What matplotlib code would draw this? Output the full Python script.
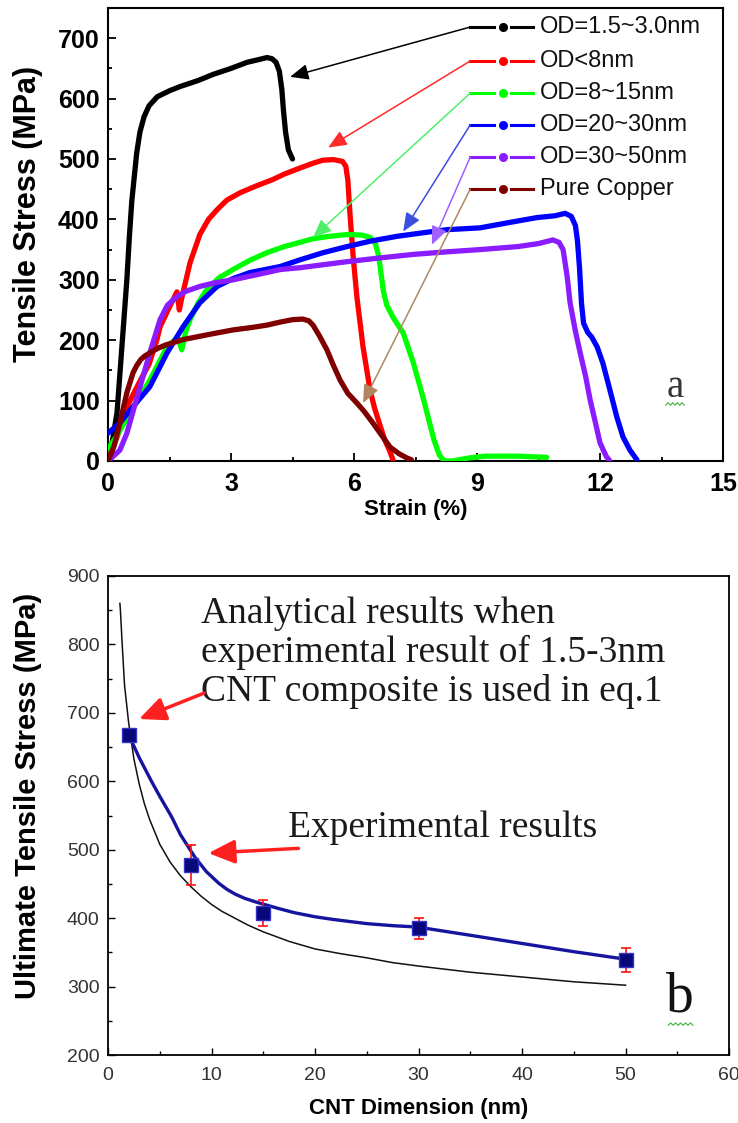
import numpy as np
import matplotlib
matplotlib.use("Agg")
import matplotlib.pyplot as plt
from matplotlib.ticker import MultipleLocator

# ---------------- (a) stress-strain curves ----------------
labels_a = ["OD=1.5~3.0nm", "OD<8nm", "OD=8~15nm", "OD=20~30nm", "OD=30~50nm", "Pure Copper"]
colors_a = ["#000000", "#ff0000", "#00ff00", "#0000ff", "#8a1cff", "#800000"]
arrow_colors = ["#000000", "#ff2a2a", "#4ef06a", "#3a4ee0", "#a060ff", "#b08660"]

strain_od15 = [0, 0.1, 0.22, 0.34, 0.46, 0.52, 0.58, 0.64, 0.7, 0.78, 0.88, 1.0, 1.2, 1.5,
               1.76, 2.2, 2.56, 3.0, 3.39, 3.7, 3.88, 4.0, 4.1, 4.18, 4.24, 4.28, 4.33,
               4.4, 4.5]
stress_od15 = [0, 30, 80, 190, 300, 370, 430, 470, 510, 545, 570, 588, 603, 613,
               620, 630, 640, 650, 660, 665, 668, 666, 660, 645, 615, 580, 545,
               515, 500]

strain_od8 = [0, 0.1, 0.25, 0.5, 0.8, 1.0, 1.19, 1.27, 1.5, 1.68, 1.74, 1.8, 2.0, 2.24, 2.45,
              2.66, 2.9, 3.22, 3.6, 4.02, 4.3, 4.68, 5.0, 5.24, 5.5, 5.72, 5.8, 5.85, 5.9,
              5.98, 6.07, 6.22, 6.39, 6.5, 6.63, 6.75, 6.88, 6.95]
stress_od8 = [0, 20, 45, 95, 135, 160, 200, 222, 255, 280, 250, 270, 328, 375, 400,
              416, 432, 444, 455, 466, 475, 485, 493, 498, 499, 496, 488, 465, 411,
              338, 272, 189, 118, 88, 60, 35, 15, 2]

strain_od8_15 = [0, 0.2, 0.54, 1.02, 1.44, 1.7, 1.8, 1.9, 2.0, 2.2, 2.41, 2.7, 3.05, 3.45,
                 3.88, 4.3, 4.68, 5.0, 5.4, 5.83, 6.2, 6.4, 6.52, 6.6, 6.66, 6.72, 6.8,
                 6.95, 7.2, 7.45, 7.7, 7.95, 8.08, 8.2, 8.4, 8.8, 9.2, 10.0, 10.7]
stress_od8_15 = [20, 40, 80, 134, 189, 205, 184, 215, 234, 262, 284, 303, 317, 332,
                 345, 355, 362, 368, 372, 375, 374, 370, 360, 340, 310, 280, 258,
                 238, 212, 162, 101, 35, 10, 0, 0, 5, 8, 8, 6]

strain_od20 = [0, 0.29, 0.61, 1.02, 1.44, 1.83, 2.24, 2.66, 3.05, 3.46, 4.2, 4.68, 5.25,
               5.83, 6.4, 7.05, 7.7, 8.27, 9.07, 9.8, 10.46, 10.9, 11.15, 11.3, 11.4,
               11.45, 11.5, 11.55, 11.6, 11.7, 11.8, 11.93, 12.07, 12.24, 12.41, 12.56,
               12.73, 12.9]
stress_od20 = [46, 63, 90, 123, 179, 222, 262, 289, 302, 312, 322, 333, 345,
               355, 364, 372, 378, 383, 386, 395, 403, 406, 410, 405, 390,
               365, 320, 260, 228, 213, 205, 189, 162, 118, 73, 40,
               18, 2]

strain_od30 = [0, 0.29, 0.46, 0.71, 1.02, 1.27, 1.45, 1.68, 1.9, 2.24, 2.6, 3.05, 3.6, 4.2,
               4.68, 5.25, 5.83, 6.6, 7.44, 8.2, 9.07, 10.0, 10.5, 10.85, 11.0, 11.1, 11.2,
               11.27, 11.4, 11.5, 11.65, 11.76, 11.9, 12.0, 12.15, 12.24]
stress_od30 = [0, 18, 46, 106, 179, 234, 258, 272, 281, 289, 295, 300, 308, 317,
               320, 325, 330, 336, 342, 346, 350, 355, 360, 366, 362, 350, 305,
               262, 215, 184, 140, 101, 60, 30, 8, 0]

strain_cu = [0, 0.15, 0.29, 0.46, 0.61, 0.7, 0.8, 0.9, 1.02, 1.2, 1.4, 1.83, 2.5, 3.05,
             3.5, 3.88, 4.2, 4.5, 4.75, 4.9, 5.0, 5.15, 5.34, 5.5, 5.66, 5.85, 6.07,
             6.25, 6.46, 6.68, 6.88, 7.1, 7.29, 7.4]
stress_cu = [0, 25, 63, 113, 146, 158, 168, 174, 179, 186, 192, 201, 210, 217,
             221, 225, 230, 234, 235, 232, 225, 208, 184, 158, 134, 112, 96,
             82, 63, 42, 23, 12, 5, 2]

strains = [strain_od15, strain_od8, strain_od8_15, strain_od20, strain_od30, strain_cu]
stresses = [stress_od15, stress_od8, stress_od8_15, stress_od20, stress_od30, stress_cu]

# arrow tips (strain %, MPa) pointing from each legend entry to its curve
arrow_tip_strain = [4.44, 5.37, 5.0, 7.2, 7.9, 6.22]
arrow_tip_stress = [636, 519, 370, 380, 358, 96]

# ---------------- (b) UTS vs CNT dimension ----------------
cnt_dim = [2, 8, 15, 30, 50]
uts = [668, 478, 407, 385, 339]
uts_err = [7, 29, 19, 15, 17]

fit_dim = [2, 3, 4.2, 5, 6.15, 7, 8.4, 9.5, 10.7, 11.5, 12.3, 13.2, 14.2, 15.1, 16.5, 18,
           20, 21.8, 25, 27.5, 29.9, 35, 40, 45, 50]
fit_uts = [668, 635, 600, 578, 548, 522, 489, 468, 451, 442, 435, 429, 424, 420, 414, 408,
           402, 398, 392, 389, 387, 375, 363, 351, 340]

model_dim = [1.15, 1.2, 1.35, 1.6, 2.0, 2.5, 3.0, 3.5, 4, 5, 6, 7, 8, 9, 10, 11, 12, 13.5,
             15, 17.5, 20, 22.5, 25, 27.5, 30, 35, 40, 45, 50]
model_uts = [860, 850, 806, 740, 685, 633, 597, 568, 545, 508, 482, 462, 446, 432, 420,
             410, 402, 390, 380, 366, 355, 348, 342, 335, 330, 321, 314, 307, 302]

W, H = 738, 1123
fig = plt.figure(figsize=(W / 100, H / 100), dpi=100)

sans = ["Liberation Sans", "DejaVu Sans"]
serif = ["Liberation Serif", "DejaVu Serif"]

# ----- panel a -----
ax1 = fig.add_axes([108 / W, 1 - 461 / H, 615 / W, 453 / H])
order = [2, 3, 4, 1, 0, 5]
for i in order:
    ax1.plot(strains[i], stresses[i], color=colors_a[i], lw=3.8,
             solid_joinstyle="round", solid_capstyle="round", zorder=3 + i * 0.1)

ax1.set_xlim(0, 15)
ax1.set_ylim(0, 750)
ax1.xaxis.set_major_locator(MultipleLocator(3))
ax1.xaxis.set_minor_locator(MultipleLocator(1.5))
ax1.yaxis.set_major_locator(MultipleLocator(100))
ax1.yaxis.set_minor_locator(MultipleLocator(50))
ax1.set_yticks([0, 100, 200, 300, 400, 500, 600, 700])
ax1.tick_params(which="both", direction="in", top=False, right=False, width=1.3)
ax1.tick_params(which="major", length=6)
ax1.tick_params(which="minor", length=3)
for lab in ax1.get_xticklabels() + ax1.get_yticklabels():
    lab.set_fontfamily(sans)
    lab.set_fontweight("bold")
    lab.set_fontsize(18)
ax1.tick_params(axis="x", pad=8)
ax1.tick_params(axis="y", pad=6)
for sp in ax1.spines.values():
    sp.set_linewidth(1.5)
ax1.set_xlabel("Strain (%)", fontfamily=sans, fontweight="bold", fontsize=16, labelpad=2)
ax1.set_ylabel("Tensile Stress (MPa)", fontfamily=sans, fontweight="bold", fontsize=22)
ax1.yaxis.set_label_coords(-0.106, 0.545)

# legend entries with leader arrows
leg_y = [0.958, 0.883, 0.812, 0.742, 0.671, 0.600]
x0, x1, xm, x2, x3, xt = 0.589, 0.627, 0.642, 0.656, 0.691, 0.702
for i in range(6):
    ax1.plot([x0, x1], [leg_y[i], leg_y[i]], color=colors_a[i], lw=2.2,
             transform=ax1.transAxes, clip_on=False, zorder=6)
    ax1.plot([x2, x3], [leg_y[i], leg_y[i]], color=colors_a[i], lw=2.2,
             transform=ax1.transAxes, clip_on=False, zorder=6)
    ax1.plot([xm], [leg_y[i]], marker="o", ms=5.5, color=colors_a[i],
             transform=ax1.transAxes, clip_on=False, zorder=6)
    ax1.text(xt, leg_y[i], labels_a[i], transform=ax1.transAxes, fontfamily=sans,
             fontsize=17, va="center", ha="left", color="#111111")
    ax1.annotate("", xy=(arrow_tip_strain[i], arrow_tip_stress[i]), xycoords="data",
                 xytext=(x0, leg_y[i]), textcoords="axes fraction",
                 arrowprops=dict(arrowstyle="-|>,head_length=0.7,head_width=0.3",
                                 color=arrow_colors[i], lw=1.1, mutation_scale=16,
                                 shrinkA=0, shrinkB=0), zorder=7)

ax1.text(0.922, 0.141, "a", transform=ax1.transAxes, fontfamily=serif, fontsize=28,
         color="#333333", ha="center", va="baseline")
zx = np.linspace(0.907, 0.937, 9)
zy = 0.123 + np.array([0, 1, 0, 1, 0, 1, 0, 1, 0]) * 0.006
ax1.plot(zx, zy, color="#40b040", lw=0.8, transform=ax1.transAxes)

# ----- panel b -----
ax2 = fig.add_axes([108 / W, 1 - 1055 / H, 621 / W, 479 / H])
ax2.plot(model_dim, model_uts, color="#111111", lw=1.1, zorder=3)
ax2.plot(fit_dim, fit_uts, color="#14149e", lw=2.4, zorder=4, solid_joinstyle="round")
ax2.errorbar(cnt_dim, uts, yerr=uts_err, fmt="none", ecolor="#ff1010", elinewidth=1.2,
             capsize=3.5, capthick=1.2, zorder=5)
ax2.plot(cnt_dim, uts, linestyle="none", marker="s", ms=9.5, mfc="#08087a",
         mec="#3434c4", mew=1.0, zorder=6)

ax2.set_xlim(0, 60)
ax2.set_ylim(200, 900)
ax2.xaxis.set_major_locator(MultipleLocator(10))
ax2.xaxis.set_minor_locator(MultipleLocator(5))
ax2.yaxis.set_major_locator(MultipleLocator(100))
ax2.yaxis.set_minor_locator(MultipleLocator(50))
ax2.tick_params(which="both", direction="in", top=False, right=False, width=1.0,
                labelcolor="#333333")
ax2.tick_params(which="major", length=5)
ax2.tick_params(which="minor", length=3)
ax2.tick_params(axis="x", pad=9)
ax2.tick_params(axis="y", pad=6)
for lab in ax2.get_xticklabels() + ax2.get_yticklabels():
    lab.set_fontfamily(sans)
    lab.set_fontsize(14)
for sp in ax2.spines.values():
    sp.set_linewidth(1.3)
ax2.set_xlabel("CNT Dimension (nm)", fontfamily=sans, fontweight="bold", fontsize=16,
               labelpad=10)
ax2.set_ylabel("Ultimate Tensile Stress (MPa)", fontfamily=sans, fontweight="bold",
               fontsize=21)
ax2.yaxis.set_label_coords(-0.106, 0.54)

note_lines = ["Analytical results when", "experimental result of 1.5-3nm",
              "CNT composite is used in eq.1"]
note_base = [831, 774, 718]
for txt, yb in zip(note_lines, note_base):
    ax2.text(9.0, yb, txt, fontfamily=serif, fontsize=27, color="#1a1a1a",
             ha="left", va="baseline")
ax2.text(17.4, 518, "Experimental results", fontfamily=serif, fontsize=27,
         color="#1a1a1a", ha="left", va="baseline")

red_arrow = dict(arrowstyle="-|>,head_length=1.0,head_width=0.45", color="#ff2020",
                 lw=2.5, mutation_scale=16, shrinkA=0, shrinkB=0)
ax2.annotate("", xy=(3.0, 691), xytext=(9.3, 729), arrowprops=red_arrow, zorder=7)
ax2.annotate("", xy=(9.7, 495), xytext=(18.4, 502), arrowprops=red_arrow, zorder=7)

ax2.text(0.921, 0.09, "b", transform=ax2.transAxes, fontfamily=serif, fontsize=40,
         color="#111111", ha="center", va="baseline")
zx2 = np.linspace(0.902, 0.942, 11)
zy2 = 0.062 + np.array([0, 1, 0, 1, 0, 1, 0, 1, 0, 1, 0]) * 0.005
ax2.plot(zx2, zy2, color="#40b040", lw=0.8, transform=ax2.transAxes)

fig.savefig("out.png", dpi=100)
